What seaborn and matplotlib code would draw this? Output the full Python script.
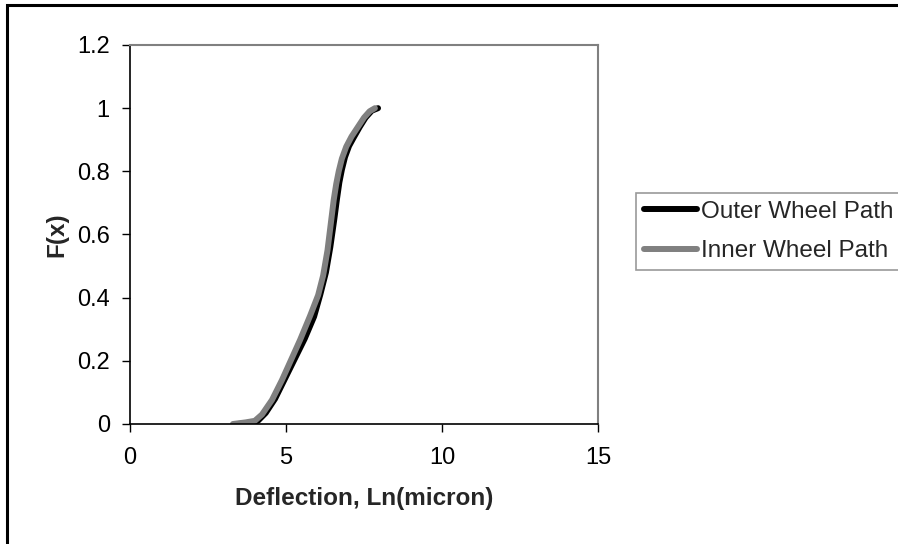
import matplotlib
matplotlib.use("Agg")
import matplotlib.pyplot as plt
import seaborn as sns
import pandas as pd
from matplotlib.patches import Rectangle
from matplotlib.lines import Line2D

# Data (x = Ln(deflection), y = F(x))
outer_x = [3.45, 3.9, 4.1, 4.35, 4.65, 4.95, 5.3, 5.6, 5.9, 6.1, 6.28, 6.42, 6.55, 6.63, 6.71, 6.79, 6.89, 7.02, 7.17, 7.36, 7.55, 7.75, 7.95]
outer_y = [0.0, 0.003, 0.01, 0.035, 0.08, 0.14, 0.21, 0.27, 0.34, 0.41, 0.48, 0.56, 0.65, 0.71, 0.765, 0.805, 0.845, 0.88, 0.907, 0.94, 0.97, 0.992, 1.0]

inner_x = [3.3, 3.7, 4.0, 4.23, 4.55, 4.87, 5.19, 5.45, 5.77, 6.03, 6.19, 6.33, 6.45, 6.53, 6.61, 6.69, 6.79, 6.93, 7.1, 7.3, 7.5, 7.68, 7.85]
inner_y = [0.0, 0.005, 0.01, 0.03, 0.076, 0.139, 0.209, 0.266, 0.342, 0.408, 0.47, 0.55, 0.646, 0.71, 0.76, 0.80, 0.84, 0.878, 0.91, 0.94, 0.97, 0.99, 1.0]

series_names = ["Outer Wheel Path", "Inner Wheel Path"]
x_ticks = [0, 5, 10, 15]
y_ticks = [0, 0.2, 0.4, 0.6, 0.8, 1, 1.2]
y_tick_labels = ["0", "0.2", "0.4", "0.6", "0.8", "1", "1.2"]

df = pd.concat([
    pd.DataFrame({"x": outer_x, "y": outer_y, "series": series_names[0]}),
    pd.DataFrame({"x": inner_x, "y": inner_y, "series": series_names[1]}),
], ignore_index=True)

sns.set_style("white")
plt.rcParams["font.family"] = ["Liberation Sans", "DejaVu Sans"]

fig = plt.figure(figsize=(8.98, 5.44), dpi=100)
ax = fig.add_axes([130/898, 1-424/544, (598-130)/898, (424-45)/544])

palette = {series_names[0]: "#000000", series_names[1]: "#808080"}
sns.lineplot(data=df, x="x", y="y", hue="series", palette=palette, sort=False,
             estimator=None, linewidth=4.3, ax=ax, legend=False)

ax.set_xlim(0, 15)
ax.set_ylim(0, 1.2)
ax.set_xticks(x_ticks)
ax.set_xticklabels([str(t) for t in x_ticks])
ax.set_yticks(y_ticks)
ax.set_yticklabels(y_tick_labels)
ax.tick_params(axis="both", direction="out", length=5.5, width=1, colors="black",
               labelsize=17, bottom=True, left=True)
ax.tick_params(axis="x", pad=11)
ax.tick_params(axis="y", pad=9)

for s in ["left", "bottom"]:
    ax.spines[s].set_color("black")
    ax.spines[s].set_linewidth(1.2)
for s in ["top", "right"]:
    ax.spines[s].set_color("#808080")
    ax.spines[s].set_linewidth(1.5)

ax.set_xlabel("Deflection, Ln(micron)", fontsize=17.5, fontweight="bold", labelpad=13)
ax.set_ylabel("F(x)", fontsize=17.5, fontweight="bold", labelpad=6)

handles = [Line2D([0], [0], color="#000000", lw=4.3),
           Line2D([0], [0], color="#808080", lw=4.3)]
leg = fig.legend(handles, series_names, loc="upper left",
                 bbox_to_anchor=(636/898, 1-193/544), fontsize=17.5,
                 frameon=True, fancybox=False, borderpad=0.32,
                 handlelength=2.2, handletextpad=0.15, labelspacing=0.72,
                 borderaxespad=0)
leg.get_frame().set_edgecolor("#808080")
leg.get_frame().set_linewidth(1.2)

# outer chart border (cut by image edge on right/bottom)
fig.patches.append(Rectangle((6.5/898, -0.2), 1.5, (544-5.5)/544 + 0.2,
                             transform=fig.transFigure, fill=False,
                             edgecolor="black", linewidth=2.2, zorder=0))

fig.savefig("out.png", dpi=100)
